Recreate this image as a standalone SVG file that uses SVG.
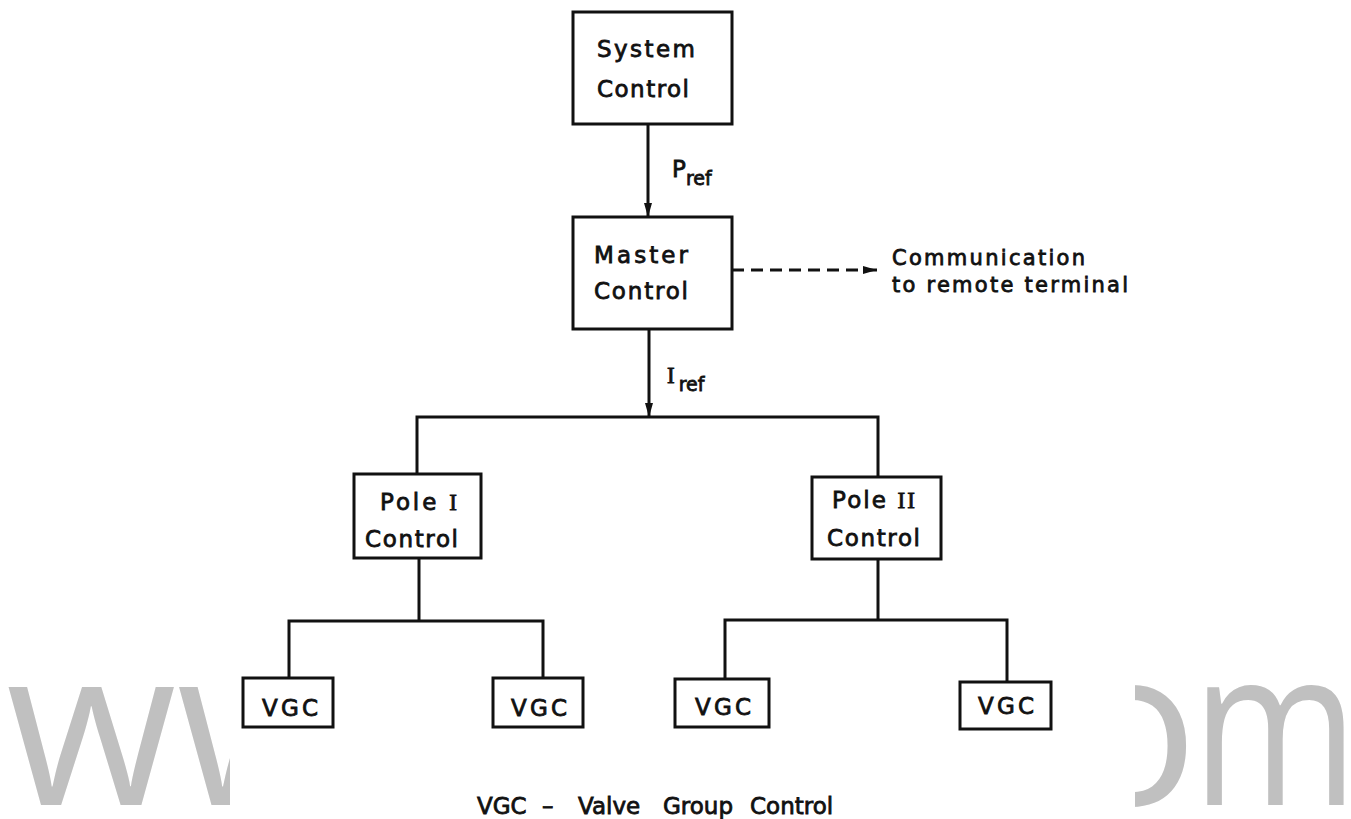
<svg xmlns="http://www.w3.org/2000/svg" width="1351" height="819" viewBox="0 0 1351 819">
<defs>
<style>
.box{fill:#fff;stroke:#111;stroke-width:3}
.ln{fill:none;stroke:#111;stroke-width:3}
.dash{fill:none;stroke:#111;stroke-width:3;stroke-dasharray:12 7}
.t{font-family:"DejaVu Sans",sans-serif;font-size:23px;fill:#111;stroke:#111;stroke-width:0.8}
.s{font-size:21px}
.rn{font-family:"Liberation Serif",serif}
.wm{font-family:"Open Sans",sans-serif;font-size:220px;fill:#c0c0c0}
</style>
<marker id="ah" viewBox="0 0 14 8" refX="14" refY="4" markerWidth="14" markerHeight="8" markerUnits="userSpaceOnUse" orient="auto"><path d="M0,0 L14,4 L0,8 z" fill="#111"/></marker>
<clipPath id="cl"><rect x="0" y="600" width="230" height="219"/></clipPath>
<clipPath id="cr"><rect x="1135" y="600" width="216" height="219"/></clipPath>
</defs>
<rect width="1351" height="819" fill="#fff"/>
<g id="watermark">
<text class="wm" x="6" y="805" clip-path="url(#cl)">ww</text>
<g clip-path="url(#cr)">
<text class="wm" x="1198" y="805" text-anchor="end">o</text>
<text class="wm" x="1192" y="805" textLength="166" lengthAdjust="spacingAndGlyphs">m</text>
</g>
</g>
<g id="connectors">
<path class="ln" d="M648,124 V217" marker-end="url(#ah)"/>
<path class="ln" d="M649,329 V417" marker-end="url(#ah)"/>
<path class="ln" d="M417,474 V417 H878 V477"/>
<path class="ln" d="M419,558 V621"/>
<path class="ln" d="M289,678 V621 H543 V678"/>
<path class="ln" d="M878,559 V620"/>
<path class="ln" d="M725,679 V620 H1007 V682"/>
<path class="dash" d="M732,270 H877" marker-end="url(#ah)"/>
<text class="t" x="672" y="177" font-size="22">P<tspan font-size="19" dy="8">ref</tspan></text>
<text class="t" x="667" y="383" font-size="22"><tspan class="rn">I</tspan><tspan font-size="19" dx="4" dy="8">ref</tspan></text>
<text class="t s" x="892" y="265" textLength="193" lengthAdjust="spacing">Communication</text>
<text class="t s" x="892" y="292" textLength="236" lengthAdjust="spacing">to remote terminal</text>
</g>
<g id="system-control">
<rect class="box" x="573" y="12" width="159" height="112"/>
<text class="t" x="597" y="57" textLength="98" lengthAdjust="spacing">System</text>
<text class="t" x="597" y="97" textLength="92" lengthAdjust="spacing">Control</text>
</g>
<g id="master-control">
<rect class="box" x="573" y="217" width="159" height="112"/>
<text class="t" x="594" y="263" textLength="94" lengthAdjust="spacing">Master</text>
<text class="t" x="594" y="299" textLength="94" lengthAdjust="spacing">Control</text>
</g>
<g id="pole1-control">
<rect class="box" x="354" y="474" width="127" height="84"/>
<text class="t" x="380" y="510" textLength="77" lengthAdjust="spacing">Pole <tspan class="rn">I</tspan></text>
<text class="t" x="365" y="547" textLength="93" lengthAdjust="spacing">Control</text>
</g>
<g id="pole2-control">
<rect class="box" x="812" y="477" width="129" height="82"/>
<text class="t" x="832" y="508" textLength="83" lengthAdjust="spacing">Pole <tspan class="rn">II</tspan></text>
<text class="t" x="827" y="546" textLength="93" lengthAdjust="spacing">Control</text>
</g>
<g id="vgc1">
<rect class="box" x="243" y="678" width="90" height="49"/>
<text class="t" x="262" y="716" textLength="56" lengthAdjust="spacing">VGC</text>
</g>
<g id="vgc2">
<rect class="box" x="493" y="678" width="90" height="49"/>
<text class="t" x="511" y="716" textLength="56" lengthAdjust="spacing">VGC</text>
</g>
<g id="vgc3">
<rect class="box" x="675" y="679" width="94" height="48"/>
<text class="t" x="695" y="715" textLength="56" lengthAdjust="spacing">VGC</text>
</g>
<g id="vgc4">
<rect class="box" x="960" y="682" width="91" height="47"/>
<text class="t" x="978" y="714" textLength="56" lengthAdjust="spacing">VGC</text>
</g>
<g id="legend">
<text class="t" y="814"><tspan x="477">VGC</tspan><tspan x="542">–</tspan><tspan x="578">Valve</tspan><tspan x="663">Group</tspan><tspan x="750">Control</tspan></text>
</g>
</svg>
